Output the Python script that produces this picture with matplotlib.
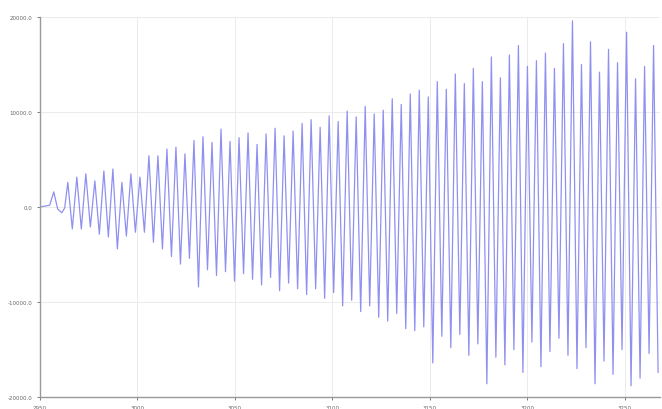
import numpy as np
import matplotlib
matplotlib.use("Agg")
import matplotlib.pyplot as plt

# lead-in before the oscillation starts
lead_t = [2950.0, 2952.6, 2955.1, 2957.2, 2959.2, 2961.3, 2962.8]
lead_v = [0, 100, 200, 1600, -200, -600, -100]

# oscillation: peaks and troughs, one of each per cycle
peaks = [2600, 3150, 3500, 2750, 3800, 4000, 2600, 3500, 3150, 5400, 5400, 6100, 6300,
         5600, 7000, 7400, 6800, 8200, 6900, 7300, 7800, 6600, 7700, 8300, 7500, 8000,
         8800, 9200, 8400, 9600, 9000, 10100, 9500, 10600, 9800, 10200, 11400, 10800, 11900,
         12300, 11600, 13200, 12400, 14000, 13000, 14600, 13200, 15800, 13600, 16000, 17000, 14800, 15400,
         16200, 14600, 17200, 19600, 15000, 17400, 14200, 16600, 15200, 18400, 13500, 14800, 17000]
troughs = [-2300, -2300, -2100, -2850, -3150, -4400, -3050, -2650, -2650, -3700, -4400, -5200, -6000,
           -5400, -8400, -6600, -7200, -6800, -7800, -7000, -7600, -8200, -7400, -8800, -8000, -8600,
           -9200, -8600, -9600, -9000, -10400, -9800, -11000, -10400, -11600, -12000, -11200, -12800, -13000,
           -12600, -16400, -13600, -14800, -13400, -15600, -14400, -18600, -15800, -16600, -15000, -17400, -14200, -16800,
           -15200, -13800, -15600, -17000, -14800, -18600, -16200, -17600, -15000, -18800, -18000, -15400, -17400]

t_start = 2964.4
half_period = 2.31

osc_v = []
for p, q in zip(peaks, troughs):
    osc_v += [p, q]
osc_t = t_start + half_period * np.arange(len(osc_v))

t = list(lead_t) + list(osc_t)
v = list(lead_v) + osc_v

fig = plt.figure(figsize=(6.62, 4.10), dpi=100)
ax = fig.add_axes([0.060, 0.029, 0.937, 0.927])
ax.plot(t, v, color='#9090f0', linewidth=0.9)

ax.set_xlim(2950, 3268)
ax.set_ylim(-20000, 20000)
ax.set_xticks([2950, 3000, 3050, 3100, 3150, 3200, 3250])
ax.set_yticks([-20000, -10000, 0, 10000, 20000])
ax.set_yticklabels(['-20000.0', '-10000.0', '0.0', '10000.0', '20000.0'])
ax.tick_params(labelsize=4, colors='#666666', length=2, width=0.6)
ax.grid(True, color='#e8e8e8', linewidth=0.6)
for s in ['top', 'right']:
    ax.spines[s].set_visible(False)
for s in ['left', 'bottom']:
    ax.spines[s].set_color('#999999')
    ax.spines[s].set_linewidth(1.0)

fig.savefig('out.png', dpi=100)
